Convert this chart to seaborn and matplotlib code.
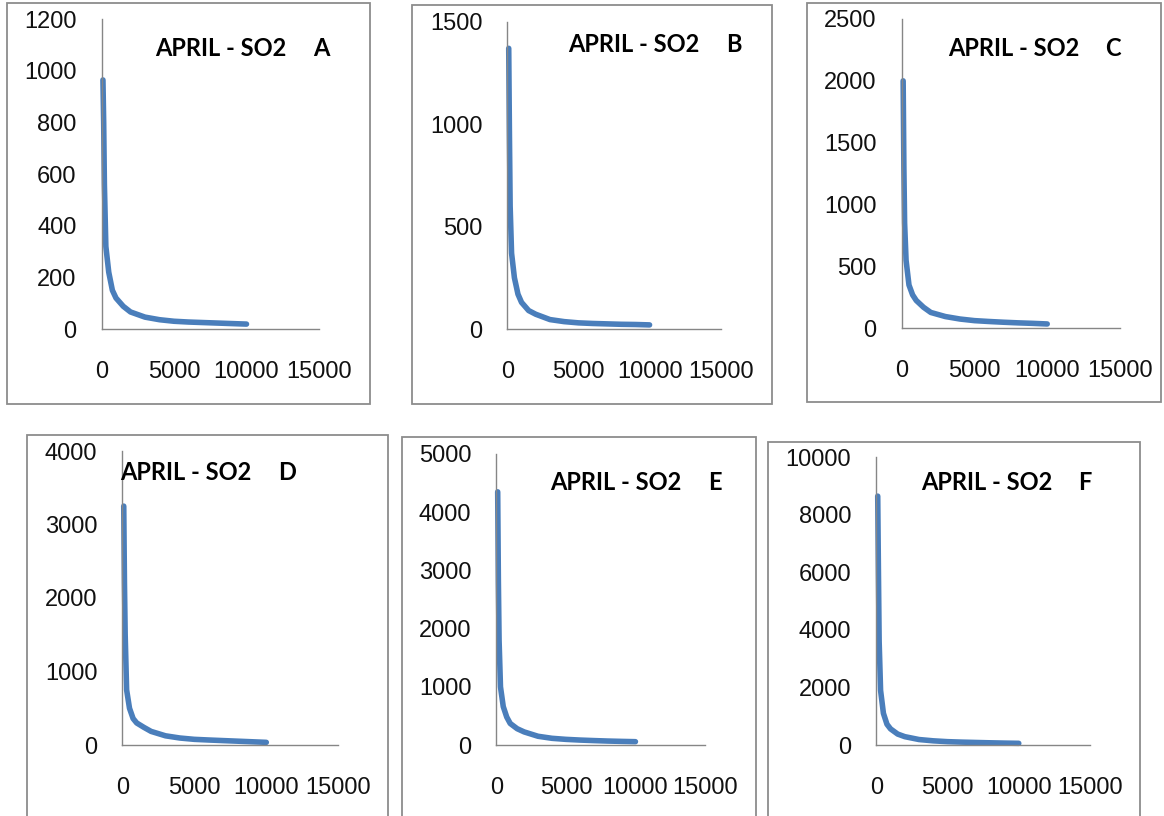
# April SO2 rank curves, six panels (A-F)

# 1. Import packages---------------------------------------------------------

import matplotlib
matplotlib.use("Agg")
import matplotlib.pyplot as plt
from matplotlib.patches import Rectangle
import pandas as pd
import seaborn as sns


# 2. Data-------------------------------------------------------------------

rank = [100, 150, 200, 300, 500, 750, 1000, 1500, 2000, 3000, 4000,
        5000, 6000, 7000, 8000, 9000, 10000]

so2_a = [965, 800, 560, 320, 220, 150, 120, 88, 66, 46, 36, 30, 27, 25, 23, 21, 19]
so2_b = [1370, 950, 600, 370, 250, 170, 130, 90, 72, 46, 36, 30, 27, 25, 23, 22, 20]
so2_c = [2000, 1300, 850, 550, 350, 270, 225, 170, 128, 95, 75, 62, 55, 49, 44, 40, 35]
so2_d = [3250, 2200, 1500, 750, 500, 360, 300, 240, 185, 125, 95, 77, 68, 60, 52, 44, 36]
so2_e = [4350, 2800, 1800, 1000, 660, 480, 370, 280, 225, 150, 115, 97, 85, 76, 68, 62, 57]
so2_f = [8650, 6000, 3600, 1900, 1100, 720, 560, 380, 290, 190, 145, 116, 100, 88, 76, 66, 58]

letters = ['A', 'B', 'C', 'D', 'E', 'F']
title_text = 'APRIL - SO2'

x_ticks = [0, 5000, 10000, 15000]
y_ticks_a = [0, 200, 400, 600, 800, 1000, 1200]
y_ticks_b = [0, 500, 1000, 1500]
y_ticks_c = [0, 500, 1000, 1500, 2000, 2500]
y_ticks_d = [0, 1000, 2000, 3000, 4000]
y_ticks_e = [0, 1000, 2000, 3000, 4000, 5000]
y_ticks_f = [0, 2000, 4000, 6000, 8000, 10000]

series = [so2_a, so2_b, so2_c, so2_d, so2_e, so2_f]
y_ticks = [y_ticks_a, y_ticks_b, y_ticks_c, y_ticks_d, y_ticks_e, y_ticks_f]


# 3. Layout (pixels in a 1164 x 816 canvas)-----------------------------------

W, H = 1164, 816

# plot area: left, top, right, bottom
plot_box = [(101.5, 19.3, 319, 329),
            (507.3, 21.7, 720.7, 329),
            (901.7, 19, 1120, 328.3),
            (122.3, 451, 338.3, 745),
            (496.3, 454, 705, 745),
            (876.3, 457.3, 1090, 745)]

# outer frame of each chart
frame_box = [(7, 3, 370, 404),
             (412, 5, 772, 404),
             (807, 3, 1161, 402),
             (27, 435, 388, 840),
             (402, 437, 756, 840),
             (768, 442, 1140, 840)]

# title: left of "APRIL - SO2", left of letter, vertical centre
title_pos = [(155, 313, 48),
             (568, 726, 45),
             (948, 1105, 49),
             (120, 278, 472),
             (550, 708, 483),
             (921, 1078, 482)]


# 4. Plot---------------------------------------------------------------------

sns.set_style("white")
plt.rcParams['font.family'] = ['Liberation Sans', 'DejaVu Sans']

axis_grey = '#868686'
line_blue = '#4a7ebb'
title_font = ['Lato', 'Liberation Sans']

fig = plt.figure(figsize=(W / 100, H / 100), dpi=100)
fig.patch.set_facecolor('white')

for i in range(6):
    l, t, r, b = plot_box[i]
    ax = fig.add_axes([l / W, 1 - b / H, (r - l) / W, (b - t) / H])

    df = pd.DataFrame({'rank': rank, 'so2': series[i]})
    sns.lineplot(data=df, x='rank', y='so2', ax=ax, color=line_blue,
                 linewidth=4, solid_capstyle='round', solid_joinstyle='round',
                 sort=False, estimator=None, clip_on=False)

    ax.set_xlim(x_ticks[0], x_ticks[-1])
    ax.set_ylim(y_ticks[i][0], y_ticks[i][-1])
    ax.set_xticks(x_ticks)
    ax.set_yticks(y_ticks[i])
    ax.set_xlabel('')
    ax.set_ylabel('')
    ax.set_facecolor('none')

    for side in ['top', 'right']:
        ax.spines[side].set_visible(False)
    for side in ['left', 'bottom']:
        ax.spines[side].set_color(axis_grey)
        ax.spines[side].set_linewidth(1.0)

    ax.tick_params(axis='both', direction='out', length=7, width=1.0,
                   color=axis_grey, labelsize=17, labelcolor='#111111')
    ax.tick_params(axis='y', pad=11)
    ax.tick_params(axis='x', pad=16)

    # chart frame
    fl, ft, fr, fb = frame_box[i]
    fig.patches.append(Rectangle((fl / W, 1 - fb / H), (fr - fl) / W, (fb - ft) / H,
                                 transform=fig.transFigure, fill=False,
                                 edgecolor='#8c8c8c', linewidth=1.3, zorder=0))

    # chart title
    tx, lx, ty = title_pos[i]
    fig.text(tx / W, 1 - ty / H, title_text, fontsize=17, fontweight='bold',
             family=title_font, ha='left', va='center', color='black')
    fig.text(lx / W, 1 - ty / H, letters[i], fontsize=17, fontweight='bold',
             family=title_font, ha='left', va='center', color='black')

fig.savefig('out.png', dpi=100, facecolor='white')
